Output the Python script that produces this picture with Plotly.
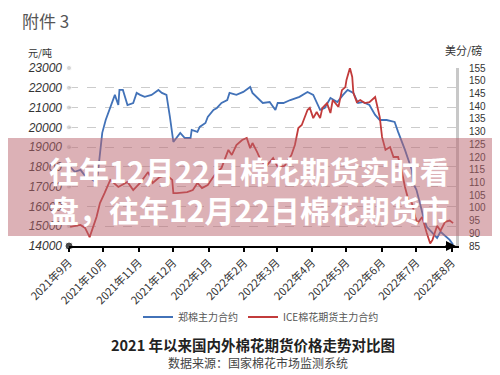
import plotly.graph_objects as go

# 郑棉主力合约 (元/吨)
zheng_dates = ["2021-09-02","2021-09-06","2021-09-11","2021-09-15","2021-09-19","2021-09-24","2021-09-26","2021-09-28","2021-09-30","2021-10-03","2021-10-07","2021-10-11","2021-10-14","2021-10-15","2021-10-18","2021-10-22","2021-10-27","2021-10-30","2021-11-02","2021-11-06","2021-11-12","2021-11-18","2021-11-21","2021-11-25","2021-11-28","2021-12-01","2021-12-07","2021-12-11","2021-12-16","2021-12-17","2021-12-22","2021-12-24","2021-12-29","2021-12-31","2022-01-05","2022-01-08","2022-01-12","2022-01-17","2022-01-19","2022-01-25","2022-01-31","2022-02-06","2022-02-08","2022-02-15","2022-02-17","2022-02-23","2022-02-28","2022-03-02","2022-03-07","2022-03-13","2022-03-21","2022-03-28","2022-04-02","2022-04-08","2022-04-12","2022-04-17","2022-04-23","2022-04-28","2022-05-02","2022-05-07","2022-05-11","2022-05-15","2022-05-21","2022-05-26","2022-05-30","2022-06-05","2022-06-12","2022-06-15","2022-06-18","2022-06-21","2022-06-24","2022-06-27","2022-06-28","2022-07-01","2022-07-04","2022-07-07","2022-07-10","2022-07-15","2022-07-19","2022-07-22","2022-07-26","2022-07-30","2022-08-02"]
zheng_values = [18000,17750,17850,17550,17450,17250,17600,18850,19720,20370,20980,21640,21130,21890,21890,21130,21230,21740,21640,21540,21640,21890,21740,21640,20530,19260,19720,19460,19460,19870,19770,20020,20220,20530,20880,20980,21230,21380,21740,21640,21790,22040,21740,21380,21230,21280,20880,21230,21230,21380,21540,21790,21640,20880,20980,21480,21280,21640,21890,21740,21230,21280,21130,20630,20370,20370,20270,19770,19360,18860,18350,17850,17190,16840,16180,15470,14970,14670,14410,14720,14510,14310,14060]

# ICE棉花期货主力合约 (美分/磅)
ice_dates = ["2021-09-02","2021-09-11","2021-09-15","2021-09-19","2021-09-25","2021-09-28","2021-10-02","2021-10-07","2021-10-09","2021-10-14","2021-10-22","2021-10-27","2021-11-02","2021-11-09","2021-11-13","2021-11-19","2021-11-25","2021-11-30","2021-12-01","2021-12-04","2021-12-13","2021-12-18","2021-12-22","2021-12-26","2021-12-31","2022-01-06","2022-01-12","2022-01-18","2022-01-21","2022-01-25","2022-01-30","2022-02-03","2022-02-06","2022-02-08","2022-02-12","2022-02-16","2022-02-21","2022-02-26","2022-03-02","2022-03-08","2022-03-14","2022-03-17","2022-03-20","2022-03-23","2022-03-28","2022-03-30","2022-04-02","2022-04-05","2022-04-08","2022-04-10","2022-04-14","2022-04-17","2022-04-19","2022-04-24","2022-04-27","2022-04-30","2022-05-01","2022-05-04","2022-05-06","2022-05-07","2022-05-10","2022-05-13","2022-05-17","2022-05-21","2022-05-26","2022-05-28","2022-05-30","2022-06-01","2022-06-04","2022-06-08","2022-06-11","2022-06-15","2022-06-18","2022-06-21","2022-06-24","2022-06-27","2022-06-30","2022-07-02","2022-07-06","2022-07-10","2022-07-13","2022-07-15","2022-07-19","2022-07-22","2022-07-26","2022-07-30","2022-08-02"]
ice_values = [92.5,93.3,92.1,88.5,96.4,101.9,105.8,111.0,110.2,108.2,110.2,107.0,109.8,114.1,109.8,112.1,112.9,111.0,105.8,105.8,106.2,107.0,109.8,107.8,109.0,112.9,115.7,122.8,120.8,124.7,126.7,127.5,123.5,125.5,122.0,118.0,116.9,119.6,116.1,116.5,120.8,124.7,131.4,132.6,138.5,139.3,135.3,137.7,135.3,139.3,141.2,137.3,142.4,139.7,146.3,147.5,150.3,155.0,151.5,145.2,141.6,142.4,141.2,141.6,143.6,139.7,135.7,127.9,122.8,123.9,120.0,120.0,114.9,108.2,103.1,101.9,96.4,94.0,96.4,90.1,86.0,87.4,93.0,91.0,94.5,95.0,94.0]

month_ticks = ["2021-09-01","2021-10-01","2021-11-01","2021-12-01","2022-01-01","2022-02-01","2022-03-01","2022-04-01","2022-05-01","2022-06-01","2022-07-01","2022-08-01"]
month_labels = ["2021年9月","2021年10月","2021年11月","2021年12月","2022年1月","2022年2月","2022年3月","2022年4月","2022年5月","2022年6月","2022年7月","2022年8月"]
left_ticks = [14000,15000,16000,17000,18000,19000,20000,21000,22000,23000]
left_labels = ["14000","15000","16000","17000","18000","19000","20000","21000","22000","23000"]
right_ticks = [85,90,95,100,105,110,115,120,125,130,135,140,145,150,155]
right_labels = ["85","90","95","100","105","110","115","120","125","130","135","140","145","150","155"]

X_START = "2021-09-01"
X_END = "2022-08-04 12:00"

CJK = "Noto Sans CJK SC"
BLUE = "#4272B8"
RED = "#C23B3B"

fig = go.Figure()

# grid start dots
fig.add_trace(go.Scatter(
    x=[X_START] * len(left_ticks), y=left_ticks, mode="markers",
    marker=dict(size=[8] + [5] * (len(left_ticks) - 1),
                color=["#000000"] + ["#c4c4c4"] * (len(left_ticks) - 1)),
    cliponaxis=False, showlegend=False, hoverinfo="skip"))

fig.add_trace(go.Scatter(x=zheng_dates, y=zheng_values, mode="lines",
                         name="郑棉主力合约", line=dict(color=BLUE, width=1.8)))
fig.add_trace(go.Scatter(x=ice_dates, y=ice_values, mode="lines",
                         name="ICE棉花期货主力合约", yaxis="y2",
                         line=dict(color=RED, width=1.8)))

def py(p):
    # screen pixel y -> paper y (plot area top 68, bottom 246 on screen)
    return (246 - p) / 178.0

def px(p):
    return (p - 69) / 387.0

fig.update_layout(
    width=492, height=367,
    margin=dict(l=61, r=44, t=60, b=129),
    paper_bgcolor="white", plot_bgcolor="white",
    font=dict(family=CJK, size=10, color="#333"),
    xaxis=dict(type="date", range=[X_START, X_END],
               tickvals=month_ticks, ticktext=month_labels, tickangle=-45,
               tickfont=dict(family=CJK, size=11, color="#333"),
               showline=True, linecolor="black", linewidth=2,
               ticks="outside", ticklen=4, tickcolor="black", tickwidth=1.5,
               showgrid=False, zeroline=False),
    yaxis=dict(range=[14000, 23000], tickvals=left_ticks, ticktext=left_labels,
               tickfont=dict(family="Liberation Sans", size=12, color="#333", style="italic"),
               showgrid=True, gridcolor="#cccccc", griddash="dash", gridwidth=1,
               zeroline=False, showline=False, ticks="", ticklabelstandoff=6),
    yaxis2=dict(range=[85, 155], tickvals=right_ticks, ticktext=right_labels,
                overlaying="y", side="right",
                tickfont=dict(family="Liberation Sans", size=10, color="#333"),
                showgrid=False, zeroline=False, showline=True,
                linecolor="#c8c8c8", linewidth=3, ticks="", ticklabelstandoff=8),
    legend=dict(orientation="h", x=px(138), y=py(317), xanchor="left", yanchor="middle",
                font=dict(family=CJK, size=10, color="#555"), traceorder="normal",
                bgcolor="rgba(0,0,0,0)"),
    showlegend=True,
)

# pink banner
fig.add_shape(type="rect", xref="paper", yref="paper",
              x0=-0.25, x1=1.25, y0=py(236), y1=py(138),
              fillcolor="rgba(185,100,110,0.5)", line=dict(width=0), layer="above")

# x-axis arrow
fig.add_annotation(x=X_END, y=14000, xref="x", yref="y", ax=-12, ay=0,
                   showarrow=True, arrowhead=2, arrowsize=1, arrowwidth=2,
                   arrowcolor="black", text="")

ann = [
    dict(text="附件 3", x=px(20), y=py(20), size=17, color="#555", anchor="left"),
    dict(text="元/吨", x=px(26), y=py(52), size=10, color="#333", anchor="left"),
    dict(text="美分/磅", x=px(443), y=py(50), size=11, color="#333", anchor="left"),
    dict(text="<b>2021 年以来国内外棉花期货价格走势对比图</b>", x=px(253), y=py(344), size=14.5, color="#222", anchor="center"),
    dict(text="数据来源：国家棉花市场监测系统", x=px(258), y=py(362), size=12, color="#444", anchor="center"),
    dict(text="<b>往年12月22日棉花期货实时看</b>", x=px(47), y=py(170), size=30, color="white", anchor="left"),
    dict(text="<b>盘，往年12月22日棉花期货市</b>", x=px(47), y=py(209), size=30, color="white", anchor="left"),
]
for a in ann:
    fig.add_annotation(text=a["text"], x=a["x"], y=a["y"], xref="paper", yref="paper",
                       xanchor=a["anchor"], yanchor="middle", showarrow=False,
                       font=dict(family=CJK, size=a["size"], color=a["color"]))

fig.write_html("out.html")
